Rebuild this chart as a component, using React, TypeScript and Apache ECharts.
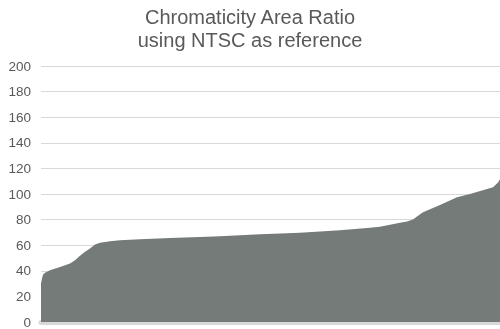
import React, { useEffect, useRef } from "react";
import * as echarts from "echarts";

const titleLines = ["Chromaticity Area Ratio", "using NTSC as reference"];
const yTicks = { min: 0, max: 200, interval: 20 };
// rank of display (sorted) and its chromaticity area ratio (%)
const ranks = [0, 1, 2, 4, 9, 19, 29, 34, 39, 44, 49, 54, 59, 69, 79, 99, 129, 159, 179, 219, 259, 299, 329, 339, 349, 359, 366, 372, 377, 382, 399, 416, 429, 452, 457, 459];
const ratios = [30, 34, 37, 38.5, 40.5, 43, 45.7, 48.3, 51.7, 54.8, 57.4, 60.5, 62, 63, 63.8, 64.6, 65.6, 66.4, 67, 68.5, 69.8, 71.6, 73.6, 74.4, 76, 77.5, 78.6, 80, 83, 85.8, 91.5, 97.4, 100, 105.2, 109, 111.6];

export default function App() {
  const ref = useRef<HTMLDivElement>(null);
  useEffect(() => {
    if (!ref.current) return;
    const chart = echarts.init(ref.current, undefined, { renderer: "svg" });
    chart.setOption({
      animation: false,
      title: {
        text: titleLines.join("\n"),
        left: "center",
        top: 1,
        textStyle: {
          fontFamily: "Liberation Sans, Arial, sans-serif",
          fontSize: 20,
          fontWeight: "normal",
          color: "#595959",
          lineHeight: 22.5,
        },
      },
      grid: { left: 41, right: 0, top: 66, bottom: 5, containLabel: false },
      xAxis: {
        type: "value",
        min: 0,
        max: ranks[ranks.length - 1],
        offset: 3,
        axisLine: { show: true, lineStyle: { color: "#d9d9d9", width: 5 } },
        axisTick: { show: false },
        axisLabel: { show: false },
        splitLine: { show: false },
      },
      yAxis: {
        type: "value",
        min: yTicks.min,
        max: yTicks.max,
        interval: yTicks.interval,
        axisLine: { show: false },
        axisTick: { show: false },
        axisLabel: {
          color: "#595959",
          fontSize: 13.5,
          fontFamily: "Liberation Sans, Arial, sans-serif",
          margin: 10,
        },
        splitLine: { lineStyle: { color: "#d9d9d9", width: 1 } },
      },
      series: [
        {
          type: "line",
          data: ranks.map((r, i) => [r, ratios[i]]),
          showSymbol: false,
          lineStyle: { width: 0 },
          areaStyle: { color: "#747b78", opacity: 1 },
        },
      ],
    });
    return () => chart.dispose();
  }, []);
  return <div ref={ref} style={{ width: 500, height: 329, position: "fixed", left: 0, top: 0 }} />;
}
